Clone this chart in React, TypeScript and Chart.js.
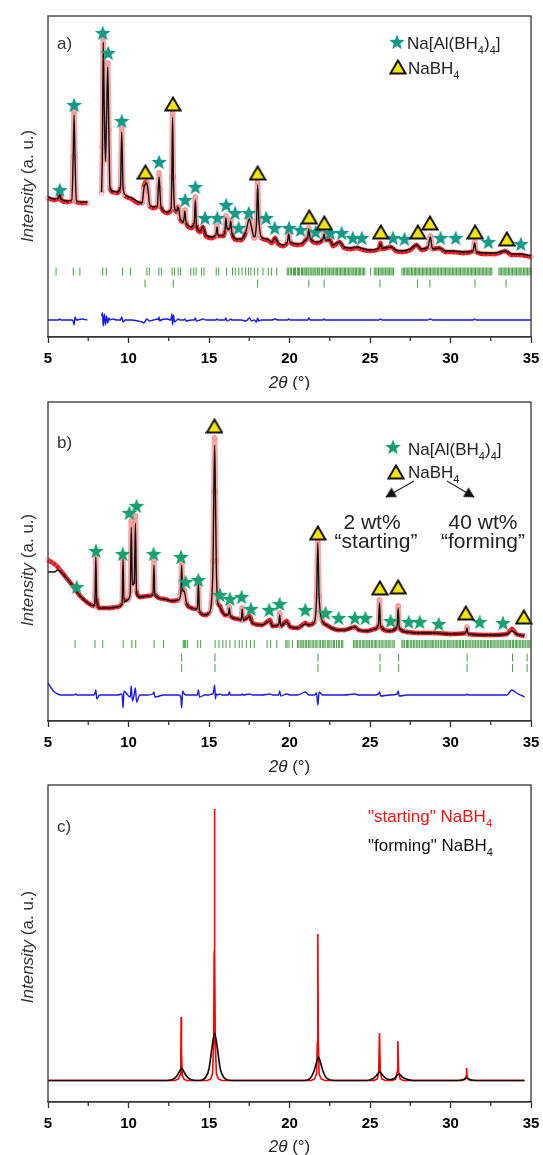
import React, { useEffect, useRef } from "react";
import { Chart, registerables } from "chart.js";
Chart.register(...registerables);

const FONT = '"Liberation Sans", Arial, Helvetica, sans-serif';

// ---------- shared axis ----------
const xMajorTicks = [5, 10, 15, 20, 25, 30, 35];
const xMinorTicks = [7.5, 12.5, 17.5, 22.5, 27.5, 32.5];

// ---------- panel a ----------
const aTheta = [5.00,5.40,5.65,5.73,5.81,6.20,6.48,6.56,6.62,6.68,
6.76,7.10,7.45,7.46,8.33,8.38,8.43,8.50,8.57,8.63,
8.71,8.78,8.85,9.00,9.30,9.50,9.58,9.66,9.80,10.20,
10.60,10.85,10.95,11.05,11.13,11.22,11.32,11.55,11.80,11.85,
11.90,11.95,12.02,12.40,12.64,12.69,12.74,12.79,12.86,13.00,
13.10,13.20,13.42,13.50,13.58,13.90,14.08,14.15,14.22,14.45,
14.62,14.80,15.20,15.43,15.50,15.57,15.90,15.99,16.05,16.12,
16.28,16.35,16.42,16.75,17.00,17.30,17.50,17.65,17.80,17.95,
18.02,18.10,18.25,18.60,18.90,19.10,19.30,19.60,19.87,19.95,
20.03,20.50,20.80,21.00,21.13,21.20,21.28,21.70,22.08,22.15,
22.22,22.50,22.70,23.10,23.40,23.80,24.20,24.60,25.00,25.55,
25.65,25.75,26.30,26.60,27.00,27.50,27.90,28.20,28.60,28.75,
28.88,29.30,29.70,30.20,30.80,31.40,31.50,31.60,32.20,32.80,
33.40,33.80,34.30,35.00];
const aObs = [139,137,138,142,137,135,136,180,226,180,
135,134,134,null,144,190,300,227,177,217,
274,207,149,145,144,150,209,150,141,138,
134,134,150,155,155,146,131,129,131,150,
164,148,130,124,127,160,224,160,128,125,
130,118,115,127,114,109,114,140,112,105,
110,101,99,102,111,101,101,106,121,108,
108,117,104,97,97,105,119,109,99,115,
155,117,99,97,94,99,93,91,95,104,
95,92,93,97,100,109,99,94,98,104,
97,97,91,95,89,88,89,87,86,88,
94,88,90,86,85,87,92,87,90,101,
88,89,85,85,84,86,95,85,83,83,
86,82,82,80];
const aCalc = [140,138,139,142,138,136,137,177,222,177,
136,135,135,null,145,186,295,224,176,214,
270,205,150,146,145,150,205,150,142,139,
135,134,148,153,154,146,132,130,131,148,
160,147,130,125,128,157,220,158,129,126,
130,119,115,126,114,110,114,137,112,106,
110,102,100,102,110,101,102,106,119,108,
108,116,104,98,98,106,118,109,100,114,
152,117,100,98,95,99,94,92,95,103,
95,93,94,97,100,108,99,95,98,103,
97,97,92,95,90,89,90,88,87,89,
93,89,90,87,86,88,92,88,90,100,
88,89,86,86,85,86,94,85,84,84,
86,83,83,81];
const aDiff = [17,17,17,18,17,17,17,16,12,20,
17,18,17,null,21,24,11,23,12,21,
14,19,17,18,17,17,20,15,17,17,
16,15,14,16,18,17,16,17,18,17,
20,16,17,18,17,23,12,22,15,17,
18,17,17,18,16,17,17,19,16,17,
18,17,17,17,18,17,17,17,19,16,
17,18,17,17,17,16,19,16,17,15,
19,16,17,17,17,18,17,17,17,18,
17,17,17,17,17,19,17,17,17,18,
17,17,17,17,17,17,17,17,17,17,
18,17,17,17,17,17,17,17,17,18,
17,17,17,17,17,17,18,17,17,17,
17,17,17,17];
const aStarTheta = [5.73,6.62,8.40,8.74,9.58,11.90,13.52,14.15,14.75,15.52,16.06,16.62,16.84,17.47,18.55,19.08,19.97,20.68,21.62,22.52,23.24,23.93,24.49,26.43,27.14,29.38,30.32,32.35,34.37];
const aStarI = [147,232,304,284,216,175,137,150,119,119,132,124,109,124,119,109,109,107,105,104,104,99,99,99,98,99,99,95,93];
const aTriTheta = [11.05,12.76,18.02,21.23,22.16,25.67,27.97,28.72,31.53,33.50];
const aTriI = [165,233,164,120,114,105,105,114,105,98];
const aTickNaAl = [5.50,6.57,6.98,8.40,8.62,9.63,10.13,11.14,11.29,11.89,12.04,12.71,12.86,13.08,13.23,13.87,14.05,14.20,14.54,14.69,
15.45,15.60,16.09,16.46,16.63,16.85,17.06,17.28,17.45,17.60,17.82,18.03,18.35,18.68,18.89,19.21,
19.86,19.93,20.05,20.12,20.24,20.31,20.37,20.49,20.56,20.63,20.75,20.81,20.90,20.97,21.06,21.15,21.21,21.32,21.39,21.47,
21.57,21.64,21.73,21.82,21.88,21.99,22.06,22.15,22.23,22.33,22.40,22.48,22.58,22.65,22.74,22.83,22.91,22.99,23.08,23.16,
23.25,23.33,23.42,23.49,23.58,23.67,23.75,23.83,23.93,24.00,24.09,24.17,24.26,24.34,24.42,24.51,24.60,24.68,25.04,
25.27,25.36,25.44,25.53,25.62,25.70,25.79,25.87,25.96,26.05,26.13,26.22,26.30,26.38,26.47,
26.98,27.07,27.15,27.24,27.32,27.41,27.49,27.58,27.66,27.75,27.83,27.91,28.00,28.08,28.17,28.26,28.34,28.42,28.51,28.59,
28.68,28.76,28.85,28.93,29.02,29.10,29.19,29.27,29.36,29.44,29.53,29.61,29.69,29.78,29.86,29.95,30.03,30.12,30.20,30.29,
30.37,30.46,30.54,30.62,30.71,30.79,30.88,30.96,31.05,31.13,31.22,31.30,31.39,31.47,31.55,31.64,31.72,31.81,31.89,31.98,
32.06,32.15,32.23,32.32,32.40,32.49,32.57,33.01,33.09,33.18,33.26,33.34,33.43,33.51,33.60,33.68,33.77,33.85,33.94,34.02,
34.10,34.19,34.27,34.36,34.44,34.53,34.61,34.70,34.78,34.87,34.95];
const aTickNaBH4 = [11.03,12.78,18.02,21.20,22.15,25.62,27.95,28.72,31.52,33.45];
const aTickRowI = [65.5, 53.5];

// ---------- panel b ----------
const bTheta = [5.00,5.20,5.40,5.60,5.80,6.20,6.60,6.72,6.80,7.00,
7.40,7.86,7.92,7.97,8.03,8.20,8.80,9.30,9.60,9.66,
9.72,9.95,10.11,10.17,10.24,10.36,10.43,10.50,10.70,11.20,
11.52,11.58,11.64,12.20,12.70,13.10,13.25,13.30,13.36,13.46,
13.60,13.90,14.28,14.34,14.41,14.75,15.00,15.15,15.25,15.30,
15.35,15.40,15.45,15.55,15.68,15.80,16.00,16.20,16.26,16.33,
16.80,17.00,17.06,17.13,17.53,17.70,18.30,18.78,18.95,19.33,
19.39,19.46,19.82,20.05,20.50,21.00,21.20,21.55,21.68,21.76,
21.84,22.05,22.30,23.00,23.40,24.06,24.30,24.80,25.30,25.52,
25.59,25.66,26.20,26.68,26.75,26.82,27.30,28.00,29.00,30.00,
30.95,31.02,31.09,32.50,33.50,33.82,34.10,34.60];
const bObs = [161,159,157,154,150,142,134,132,129,125,
119,115,125,168,122,113,113,114,118,165,
121,121,130,200,138,140,205,130,124,125,
127,161,127,122,120,121,130,160,132,131,
118,113,112,142,110,106,108,118,160,230,
283,230,160,118,115,110,106,106,114,105,
102,101,113,101,105,98,96,101,95,96,
108,95,100,94,93,98,96,99,125,181,
125,100,96,91,91,94,91,90,92,96,
121,95,90,94,115,93,89,88,88,87,
88,94,87,86,87,92,87,85];
const bCalc = [149,149,149,151,149,142,134,132,129,125,
119,115,123,164,120,113,113,114,117,162,
119,121,128,194,136,138,198,128,124,125,
126,156,126,122,120,121,128,156,130,130,
118,113,112,138,110,106,108,118,158,226,
276,227,158,118,114,110,106,106,113,105,
102,101,112,101,104,98,96,100,95,96,
106,95,99,94,93,97,96,99,123,178,
123,100,96,91,91,94,91,90,92,96,
118,95,90,94,113,93,89,88,88,87,
88,93,87,86,87,90,87,85];
const bDiff = [38,33,29,27,26,26,26,27,26,26,
26,26,28,31,22,26,26,26,27,13,
30,26,24,35,20,27,33,19,26,26,
27,29,24,26,26,26,24,13,30,27,
26,26,26,31,24,26,26,27,27,31,
36,22,27,26,27,26,26,26,29,26,
26,26,27,26,27,26,26,27,26,26,
30,25,27,26,26,29,26,26,28,16,
29,26,26,26,26,27,26,26,26,27,
29,25,26,27,30,25,26,26,26,26,
26,27,26,26,26,31,28,24];
const bStarTheta = [6.78,7.98,9.64,10.05,10.50,11.56,13.26,13.55,14.34,15.68,16.30,17.02,17.60,18.74,19.39,20.98,22.23,23.05,24.06,24.71,26.28,27.40,28.09,29.27,31.81,33.26];
const bStarI = [134,170,167,208,215,167,164,139,141,126,122,124,112,111,117,111,108,103,103,103,100,99,99,97,99,98];
const bTriTheta = [15.34,21.76,25.61,26.75,30.95,34.55];
const bTriI = [295,188,133,134,108,104];
const bTickNaAl = [6.68,7.92,8.40,9.67,10.21,10.45,11.59,12.17,13.40,13.47,13.55,13.66,14.30,14.48,15.38,15.62,15.86,16.06,16.30,16.62,
16.88,17.06,17.32,17.58,17.81,18.61,18.83,19.21,19.77,19.85,19.97,20.18,20.50,20.58,20.70,20.77,20.86,20.97,21.05,21.16,
21.22,21.33,21.45,21.52,21.64,21.71,21.84,21.93,22.06,22.13,22.22,22.35,22.44,22.51,22.63,22.74,22.80,22.92,23.03,23.11,
23.24,23.31,23.97,24.06,24.15,24.21,24.33,24.40,24.52,24.61,24.69,24.80,24.88,24.97,25.08,25.14,25.26,25.35,25.43,25.56,
25.62,25.74,25.81,25.93,26.01,26.12,26.19,26.30,26.42,26.51,26.98,27.05,27.14,27.26,27.33,27.41,27.53,27.60,27.71,27.79,
27.90,27.98,28.07,28.18,28.25,28.36,28.44,28.53,28.61,28.72,28.80,28.89,28.97,29.08,29.16,29.25,29.36,29.43,29.54,29.62,
29.71,29.82,29.90,29.98,30.09,30.17,30.28,30.36,30.45,30.55,30.63,30.74,30.81,30.92,31.01,31.09,31.20,31.27,31.38,31.46,
31.55,31.65,31.73,31.84,31.91,32.02,32.10,32.19,32.30,32.37,32.48,32.56,32.65,32.75,32.83,32.94,33.01,33.12,33.20,33.28,
33.39,33.46,33.57,33.65,33.73,33.84,33.91,34.02,34.10,34.19,34.30,34.37,34.48,34.56,34.65,34.76,34.83,34.93];
const bTickNaBH4 = [13.30,15.37,21.77,25.62,26.78,31.03,33.85,34.76];
const bTickRowI = [77, 63.5, 53];

// ---------- panel c ----------
const cRedTheta = [5.00,12.90,13.10,13.20,13.25,13.27,13.29,13.34,13.44,13.60,
14.90,15.10,15.22,15.29,15.32,15.34,15.36,15.39,15.46,15.58,
15.80,21.35,21.55,21.68,21.73,21.76,21.79,21.84,21.97,22.20,
25.25,25.45,25.54,25.59,25.64,25.73,25.95,26.40,26.60,26.68,
26.73,26.78,26.87,27.05,30.75,30.90,30.97,31.00,31.03,31.10,
31.25,34.60];
const cRedI = [21.5,21.5,23,27,45,85,50,27,23,21.5,
21.5,23,28,60,150,293,150,60,28,23,
21.5,21.5,23,28,60,168,60,28,23,21.5,
21.5,23,30,69,30,23,21.5,21.5,23,30,
61,30,23,21.5,21.5,22.5,26,34,26,22.5,
21.5,21.5];
const cBlackTheta = [5.00,12.40,12.80,13.00,13.15,13.30,13.45,13.60,13.80,14.20,
14.40,14.80,15.00,15.15,15.35,15.55,15.70,15.90,16.40,20.90,
21.30,21.50,21.65,21.80,21.95,22.10,22.30,22.80,24.80,25.20,
25.40,25.60,25.80,26.00,26.25,26.55,26.80,27.00,27.25,27.70,
30.40,30.80,31.00,31.20,31.60,34.60];
const cBlackI = [21.5,21.5,23,26,30,34,30,26,23,21.5,
21.5,25,33,50,69,50,33,25,21.5,21.5,
24,30,38,45,38,30,24,21.5,21.5,23.5,
26.5,30,26.5,23.5,22.5,24,28,25,23,21.5,
21.5,22.5,24,22.5,21.5,21.5];

// ---------- helpers ----------
type Part = { t: string; sub?: boolean; it?: boolean };
const fontOf = (p: Part, size: number) =>
  `${p.it ? "italic " : ""}${p.sub ? Math.round(size * 0.64) : size}px ${FONT}`;

function drawRich(ctx: CanvasRenderingContext2D, parts: Part[], x: number, y: number, size: number, color: string, align: "left" | "center" = "left") {
  ctx.textAlign = "left";
  ctx.textBaseline = "alphabetic";
  let w = 0;
  const ws = parts.map((p) => { ctx.font = fontOf(p, size); const m = ctx.measureText(p.t).width; w += m; return m; });
  let cx = align === "center" ? x - w / 2 : x;
  ctx.fillStyle = color;
  parts.forEach((p, i) => {
    ctx.font = fontOf(p, size);
    ctx.fillText(p.t, cx, p.sub ? y + size * 0.27 : y);
    cx += ws[i];
  });
}

function makeStar(color: string) {
  const c = document.createElement("canvas");
  c.width = 18; c.height = 18;
  const g = c.getContext("2d")!;
  g.beginPath();
  for (let i = 0; i < 10; i++) {
    const r = i % 2 === 0 ? 8.2 : 3.4;
    const a = -Math.PI / 2 + (i * Math.PI) / 5;
    const px = 9 + r * Math.cos(a), py = 9.6 + r * Math.sin(a);
    if (i === 0) g.moveTo(px, py); else g.lineTo(px, py);
  }
  g.closePath();
  g.fillStyle = color;
  g.fill();
  return c;
}

function makeTri() {
  const c = document.createElement("canvas");
  c.width = 18; c.height = 16;
  const g = c.getContext("2d")!;
  g.beginPath();
  g.moveTo(9, 1.6); g.lineTo(16.6, 14.6); g.lineTo(1.4, 14.6); g.closePath();
  g.fillStyle = "#f4e500"; g.fill();
  g.lineWidth = 2; g.lineJoin = "miter"; g.strokeStyle = "#111"; g.stroke();
  return c;
}

function makeArrowHead() {
  const c = document.createElement("canvas");
  c.width = 12; c.height = 11;
  const g = c.getContext("2d")!;
  g.beginPath(); g.moveTo(6, 0.5); g.lineTo(11.5, 10.5); g.lineTo(0.5, 10.5); g.closePath();
  g.fillStyle = "#111"; g.fill();
  return c;
}

const pts = (xs: number[], ys: (number | null)[]) => xs.map((x, i) => ({ x, y: ys[i] }));
const lvl = (xs: number[], y: number) => xs.map((x) => ({ x, y }));
const steep = (c: any) => Math.abs(c.p1.y - c.p0.y) > 2.2 * Math.abs(c.p1.x - c.p0.x) + 3;

function lineDs(data: any[], color: string, width: number, order: number, extra: any = {}) {
  return { type: "line", data, borderColor: color, borderWidth: width, pointRadius: 0, cubicInterpolationMode: "monotone", spanGaps: false, order, clip: false, ...extra };
}
function obsDs(data: any[]) {
  return lineDs(data, "#e0161d", 4.5, 6, {
    pointRadius: 2.4, pointStyle: "circle", pointBorderColor: "rgba(236,110,110,0.6)", pointBackgroundColor: "rgba(255,255,255,0)", pointBorderWidth: 0.9,
    segment: {
      borderColor: (c: any) => (steep(c) ? "rgba(242,150,150,0.8)" : "#e0161d"),
      borderWidth: (c: any) => (steep(c) ? 5.5 : 4.5),
    },
  });
}
function tickDs(xs: number[], y: number) {
  return { type: "line", data: lvl(xs, y), showLine: false, pointStyle: "line", pointRotation: 90, pointRadius: 4, pointBorderColor: "rgba(25,135,25,0.8)", pointBorderWidth: 1, order: 3, clip: false };
}
function symDs(xs: number[], ys: number[], img: HTMLCanvasElement, order: number) {
  return { type: "line", data: pts(xs, ys), showLine: false, pointStyle: img, pointRadius: 8, order, clip: false };
}

function baseOptions(ymax: number, padTop: number, axisH: number) {
  return {
    responsive: false, animation: false, devicePixelRatio: 1,
    layout: { padding: { left: 48, right: 12, top: padTop, bottom: 0 } },
    plugins: { legend: { display: false }, tooltip: { enabled: false } },
    events: [],
    scales: {
      x: {
        type: "linear", min: 5, max: 35,
        afterFit: (s: any) => { s.height = axisH; },
        afterBuildTicks: (s: any) => { s.ticks = xMajorTicks.map((v) => ({ value: v })); },
        ticks: { font: { family: FONT, size: 15, weight: "bold", lineHeight: 1.75 }, color: "#000", padding: 3, maxRotation: 0, autoSkip: false },
        grid: { drawOnChartArea: false, drawTicks: true, tickLength: 6, tickColor: "#333", tickWidth: 1.3 },
        border: { display: true, color: "#333", width: 1.3 },
      },
      y: { display: false, min: 0, max: ymax },
    },
  };
}

function decoPlugin(deco: (ctx: CanvasRenderingContext2D, chart: any) => void, label: string, labelY: number, yTitleY: number, xTitleOff: number) {
  return {
    id: "deco",
    afterDraw(chart: any) {
      const { ctx, chartArea: a, scales } = chart;
      const xs = scales.x;
      ctx.save();
      ctx.strokeStyle = "#333"; ctx.lineWidth = 1.3;
      ctx.strokeRect(a.left, a.top, a.right - a.left, a.bottom - a.top);
      ctx.beginPath();
      for (const v of xMinorTicks) {
        const px = xs.getPixelForValue(v);
        ctx.moveTo(px, a.bottom); ctx.lineTo(px, a.bottom + 4);
      }
      ctx.stroke();
      drawRich(ctx, [{ t: label }], 57, labelY, 17, "#333");
      ctx.save();
      ctx.translate(27, yTitleY);
      ctx.rotate(-Math.PI / 2);
      drawRich(ctx, [{ t: "Intensity", it: true }, { t: " (a. u.)" }], 0, 6, 17, "#333", "center");
      ctx.restore();
      drawRich(ctx, [{ t: "2θ", it: true }, { t: " (°)" }], (a.left + a.right) / 2, a.bottom + xTitleOff, 17, "#222", "center");
      deco(ctx, chart);
      ctx.restore();
    },
  };
}

export default function App() {
  const ra = useRef<HTMLCanvasElement>(null);
  const rb = useRef<HTMLCanvasElement>(null);
  const rc = useRef<HTMLCanvasElement>(null);

  useEffect(() => {
    document.body.style.margin = "0";
    document.body.style.background = "#fff";
    const star = makeStar("#149a86");
    const starB = makeStar("#17a070");
    const tri = makeTri();
    const head = makeArrowHead();

    const legendA = (ctx: CanvasRenderingContext2D) => {
      ctx.drawImage(star, 397 - 9, 42.5 - 9.6);
      drawRich(ctx, [{ t: "Na[Al(BH" }, { t: "4", sub: true }, { t: ")" }, { t: "4", sub: true }, { t: "]" }], 407, 49, 17, "#222");
      ctx.drawImage(tri, 398 - 9, 67 - 8);
      drawRich(ctx, [{ t: "NaBH" }, { t: "4", sub: true }], 408, 74, 17, "#222");
    };
    const legendB = (ctx: CanvasRenderingContext2D) => {
      ctx.drawImage(starB, 393 - 9, 57.5 - 9.6);
      drawRich(ctx, [{ t: "Na[Al(BH" }, { t: "4", sub: true }, { t: ")" }, { t: "4", sub: true }, { t: "]" }], 408, 65, 17, "#222");
      ctx.drawImage(tri, 396 - 9, 82 - 8);
      drawRich(ctx, [{ t: "NaBH" }, { t: "4", sub: true }], 408, 88, 17, "#222");
      const arrow = (x0: number, y0: number, x1: number, y1: number) => {
        ctx.strokeStyle = "#222"; ctx.lineWidth = 1.2;
        ctx.beginPath(); ctx.moveTo(x0, y0); ctx.lineTo(x1, y1); ctx.stroke();
        ctx.save(); ctx.translate(x1, y1);
        ctx.rotate(Math.atan2(y1 - y0, x1 - x0) + Math.PI / 2);
        ctx.drawImage(head, -6, -1);
        ctx.restore();
      };
      arrow(414, 91, 386, 107);
      arrow(447, 91, 474, 107);
      drawRich(ctx, [{ t: "2 wt%" }], 372, 139, 21, "#222", "center");
      drawRich(ctx, [{ t: "\u201Cstarting\u201D" }], 376, 158, 21, "#222", "center");
      drawRich(ctx, [{ t: "40 wt%" }], 483, 139, 21, "#222", "center");
      drawRich(ctx, [{ t: "\u201Cforming\u201D" }], 483, 158, 21, "#222", "center");
    };
    const legendC = (ctx: CanvasRenderingContext2D) => {
      drawRich(ctx, [{ t: '"starting" NaBH' }, { t: "4", sub: true }], 368, 47, 17, "#ff1010");
      drawRich(ctx, [{ t: '"forming" NaBH' }, { t: "4", sub: true }], 368, 76, 17, "#111");
    };

    const cfgA: any = {
      type: "line",
      data: {
        datasets: [
          obsDs(pts(aTheta, aObs)),
          lineDs(pts(aTheta, aCalc), "#111", 1.4, 5),
          lineDs(pts(aTheta, aDiff), "#1a1aee", 1.4, 4),
          tickDs(aTickNaAl, aTickRowI[0]),
          tickDs(aTickNaBH4, aTickRowI[1]),
          symDs(aStarTheta, aStarI, star, 1),
          symDs(aTriTheta, aTriI, tri, 0),
        ],
      },
      options: baseOptions(321, 16, 53),
      plugins: [decoPlugin(legendA, "a)", 49, 186, 51)],
    };
    const cfgB: any = {
      type: "line",
      data: {
        datasets: [
          obsDs(pts(bTheta, bObs)),
          lineDs(pts(bTheta, bCalc), "#111", 1.4, 5),
          lineDs(pts(bTheta, bDiff), "#1a1aee", 1.4, 4),
          tickDs(bTickNaAl, bTickRowI[0]),
          tickDs(bTickNaBH4, bTickRowI[1]),
          tickDs(bTickNaBH4, bTickRowI[2]),
          symDs(bStarTheta, bStarI, starB, 1),
          symDs(bTriTheta, bTriI, tri, 0),
        ],
      },
      options: baseOptions(319, 12, 54),
      plugins: [decoPlugin(legendB, "b)", 58, 180, 51)],
    };
    const cfgC: any = {
      type: "line",
      data: {
        datasets: [
          lineDs(pts(cBlackTheta, cBlackI), "#111", 1.7, 1),
          lineDs(pts(cRedTheta, cRedI), "#ff0000", 1.6, 2, { cubicInterpolationMode: "default", tension: 0 }),
        ],
      },
      options: baseOptions(317, 10, 53),
      plugins: [decoPlugin(legendC, "c)", 57, 172, 49.5)],
    };

    const charts = [
      new Chart(ra.current!, cfgA),
      new Chart(rb.current!, cfgB),
      new Chart(rc.current!, cfgC),
    ];
    return () => charts.forEach((c) => c.destroy());
  }, []);

  return (
    <div style={{ position: "relative", width: 543, height: 1155, background: "#fff", overflow: "hidden" }}>
      <canvas ref={ra} width={543} height={390} style={{ position: "absolute", left: 0, top: 0 }} />
      <canvas ref={rb} width={543} height={385} style={{ position: "absolute", left: 0, top: 390 }} />
      <canvas ref={rc} width={543} height={380} style={{ position: "absolute", left: 0, top: 775 }} />
    </div>
  );
}
